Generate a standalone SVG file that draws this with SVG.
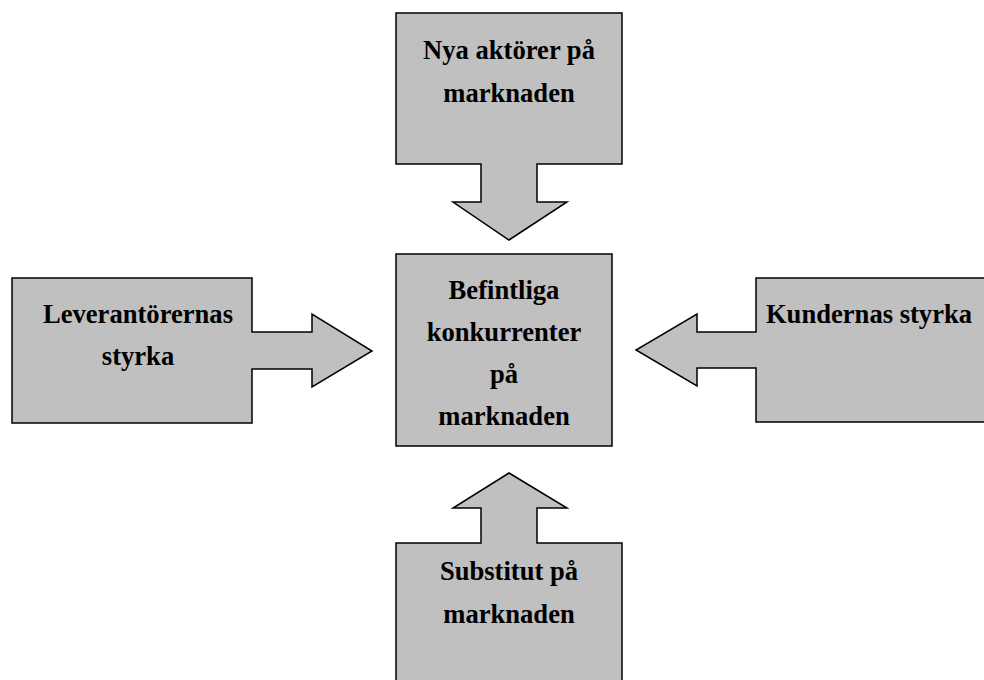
<svg xmlns="http://www.w3.org/2000/svg" width="984" height="680" viewBox="0 0 984 680">
<style>
.s{fill:#c0c0c0;stroke:#000;stroke-width:1.5;stroke-linejoin:miter}
.t{font-family:"Liberation Serif","Times New Roman",serif;font-weight:bold;font-size:26.6px;fill:#000;text-anchor:middle}
</style>
<rect width="984" height="680" fill="#fff"/>
<g id="connectors"></g>
<g id="nya">
<path class="s" d="M396,13 H622 V164 H537 V202 H567 L509,240 L453,202 H481 V164 H396 Z"/>
<text class="t" x="509" y="59">Nya aktörer på</text>
<text class="t" x="509" y="102">marknaden</text>
</g>
<g id="leverantorer">
<path class="s" d="M12,278 H252 V332 H312 V314 L372,351 L312,387 V369 H252 V423 H12 Z"/>
<text class="t" x="138" y="323">Leverantörernas</text>
<text class="t" x="138" y="365">styrka</text>
</g>
<g id="kunder">
<path class="s" d="M990,278 H756 V332 H697 V314 L636,350 L697,386 V368 H756 V422 H990"/>
<text class="t" x="869" y="323">Kundernas styrka</text>
</g>
<g id="befintliga">
<rect class="s" x="396" y="254" width="216" height="192"/>
<text class="t" x="504" y="299">Befintliga</text>
<text class="t" x="504" y="341">konkurrenter</text>
<text class="t" x="504" y="383">på</text>
<text class="t" x="504" y="425">marknaden</text>
</g>
<g id="substitut">
<path class="s" d="M396,690 V543 H481 V508 H453 L509,473 L567,508 H537 V543 H622 V690"/>
<text class="t" x="509" y="580">Substitut på</text>
<text class="t" x="509" y="623">marknaden</text>
</g>
</svg>
